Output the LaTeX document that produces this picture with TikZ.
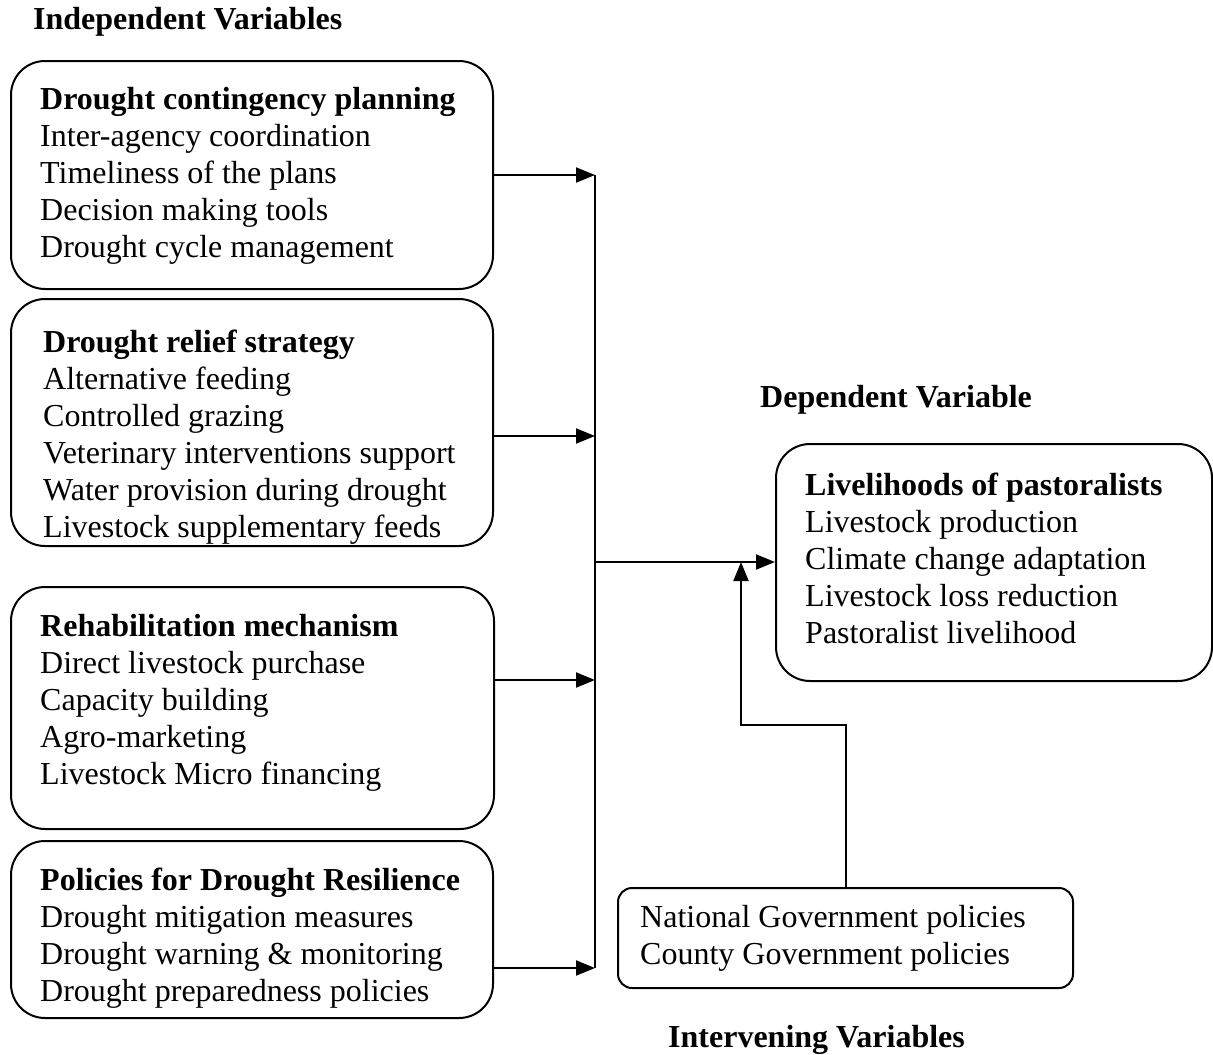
\documentclass[tikz,border=0pt]{standalone}
\usepackage{fontspec}
\setmainfont{Liberation Serif}
\usetikzlibrary{arrows.meta}
\usetikzlibrary{calc}

\tikzset{
  varbox/.style={draw, line width=2pt, rounded corners=34pt, anchor=north west, inner sep=0pt},
  boxtext/.style={anchor=west, align=left, inner sep=0pt, font=\fontsize{32}{37}\selectfont},
  heading/.style={anchor=west, inner sep=0pt, font=\fontsize{32}{37}\selectfont\bfseries},
  link/.style={line width=2pt, -{Triangle[length=19pt,width=15pt]}},
  bus/.style={line width=2pt}
}

\begin{document}
\begin{tikzpicture}[x=1pt,y=-1pt]
\useasboundingbox (0,0) rectangle (1213,1055);
% headings
\node[heading] (indep) at (33,22) {Independent Variables};
\node[heading] (dep) at (760,400) {Dependent Variable};
\node[heading] (interv) at (668,1040) {Intervening Variables};
% independent variables
\node[varbox, minimum width=482pt, minimum height=228pt] (plan) at (10,60) {};
\node[boxtext] (plantext) at ($(plan.west)+(30,1)$) {%
{\bfseries Drought contingency planning}\\
Inter-agency coordination\\
Timeliness of the plans\\
Decision making tools\\
Drought cycle management};
\node[varbox, minimum width=482pt, minimum height=247pt] (relief) at (10,298) {};
\node[boxtext] (relieftext) at ($(relief.west)+(33,15)$) {%
{\bfseries Drought relief strategy}\\
Alternative feeding\\
Controlled grazing\\
Veterinary interventions support\\
Water provision during drought\\
Livestock supplementary feeds};
\node[varbox, minimum width=483pt, minimum height=242pt] (rehab) at (10,586) {};
\node[boxtext] (rehabtext) at ($(rehab.west)+(30,-5)$) {%
{\bfseries Rehabilitation mechanism}\\
Direct livestock purchase\\
Capacity building\\
Agro-marketing\\
Livestock Micro financing};
\node[varbox, minimum width=482pt, minimum height=177pt] (policy) at (10,840) {};
\node[boxtext] (policytext) at ($(policy.west)+(30,9)$) {%
{\bfseries Policies for Drought Resilience}\\
Drought mitigation measures\\
Drought warning \& monitoring\\
Drought preparedness policies};
% dependent variable
\node[varbox, minimum width=436pt, minimum height=237pt] (live) at (775,443) {};
\node[boxtext] (livetext) at ($(live.west)+(30,-4)$) {%
{\bfseries Livelihoods of pastoralists}\\
Livestock production\\
Climate change adaptation\\
Livestock loss reduction\\
Pastoralist livelihood};
% intervening variables
\node[varbox, rounded corners=14pt, minimum width=455pt, minimum height=100pt] (gov) at (617,887) {};
\node[boxtext] (govtext) at ($(gov.west)+(23,0)$) {%
National Government policies\\
County Government policies};
% bus and arrows
\coordinate (b1) at (595,175);
\coordinate (b2) at (595,436);
\coordinate (b3) at (595,680);
\coordinate (b4) at (595,968);
\coordinate (bmid) at (595,562);
\coordinate (join) at (741,562);
\draw[bus] (b1) -- (b4);
\draw[link] (plan.east |- b1) -- (b1);
\draw[link] (relief.east |- b2) -- (b2);
\draw[link] (rehab.east |- b3) -- (b3);
\draw[link] (policy.east |- b4) -- (b4);
\draw[link] (bmid) -- (live.west |- bmid);
\draw[link] (gov.north) -- ++(0,-162) -| (join);
\end{tikzpicture}
\end{document}
